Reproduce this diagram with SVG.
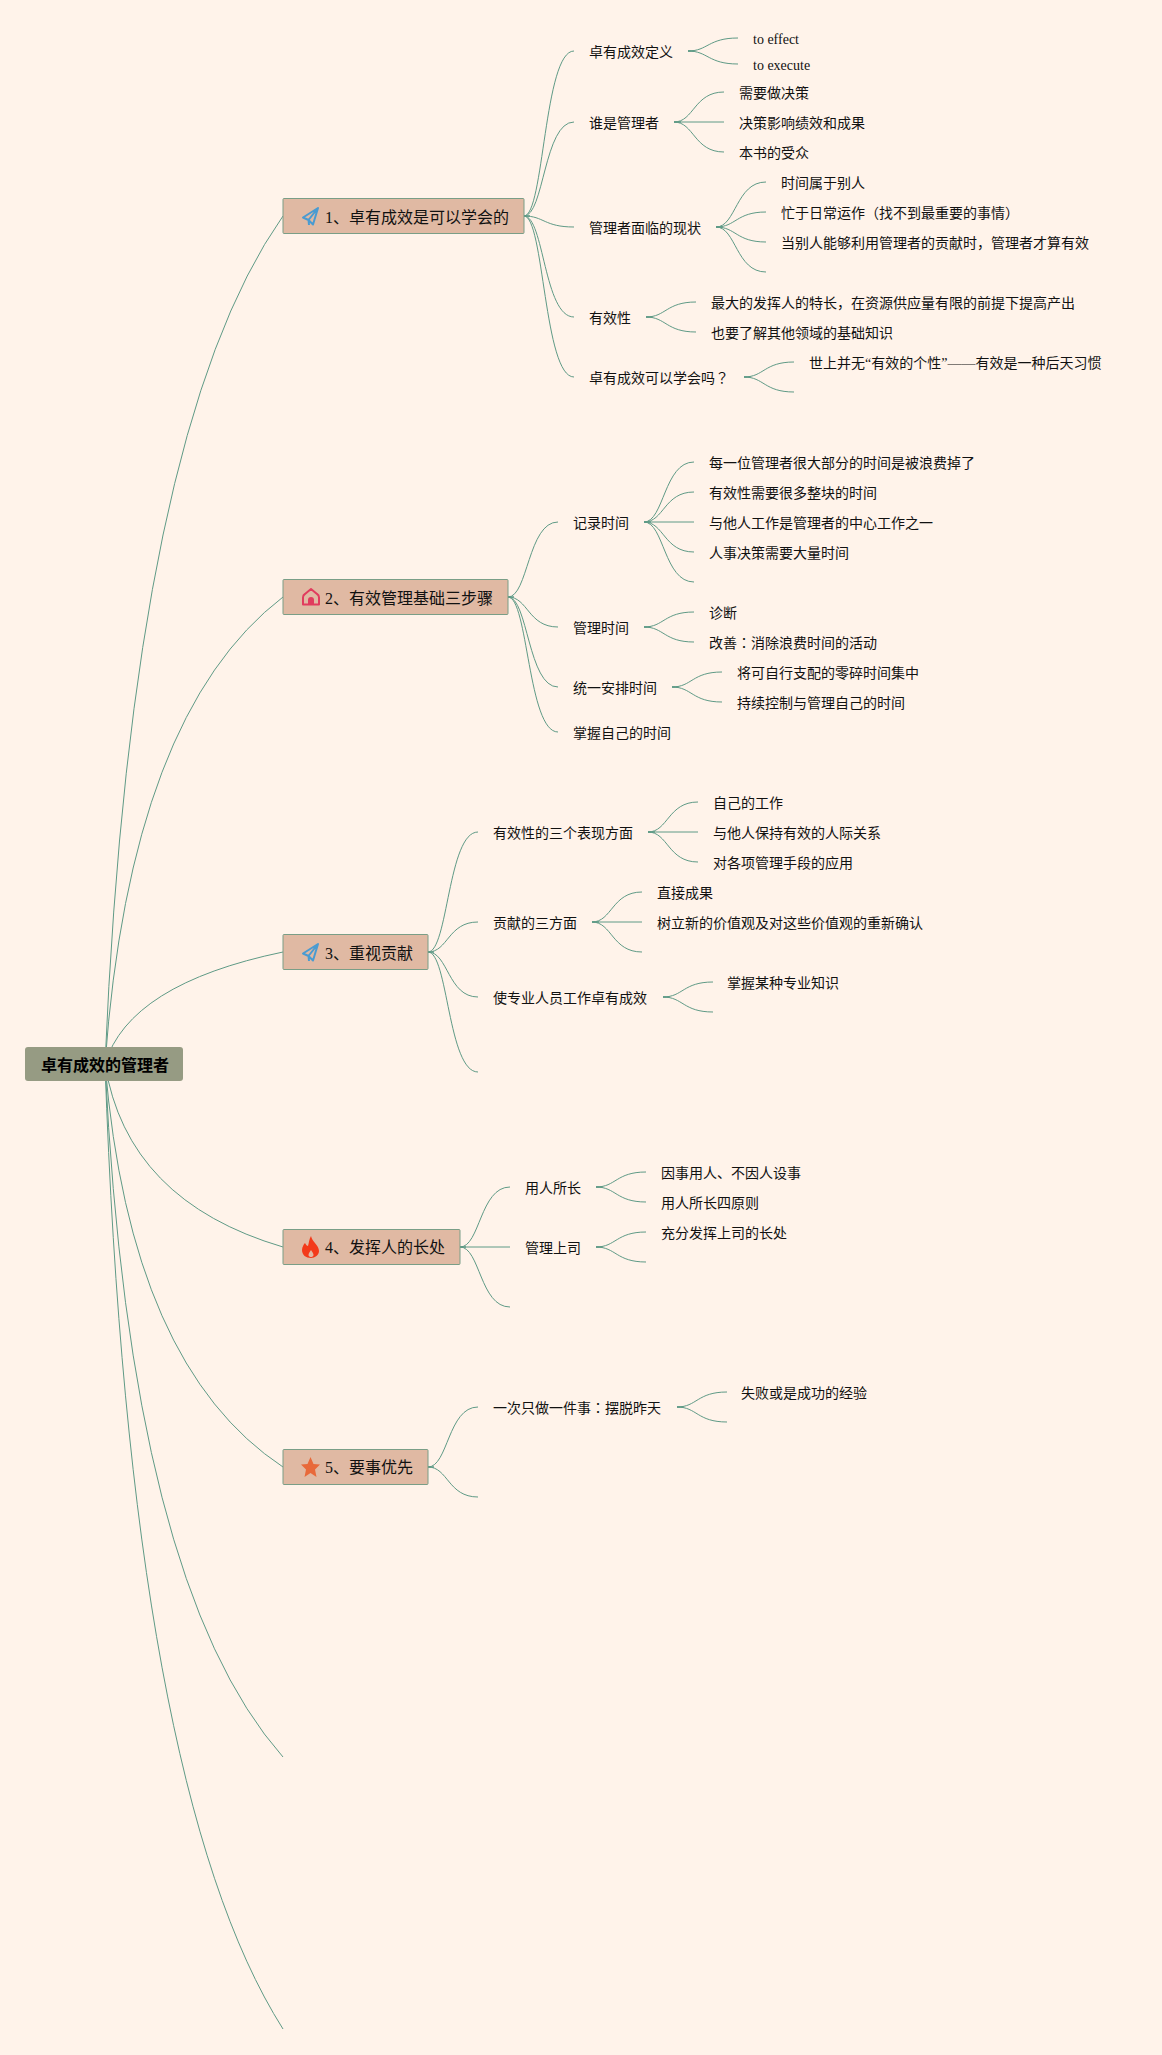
<svg xmlns="http://www.w3.org/2000/svg" width="1162" height="2055" viewBox="0 0 1162 2055">
<style>
text{font-family:"Liberation Serif","Noto Sans CJK SC",serif;fill:#111;font-size:14px}
.j{font-family:"Noto Sans CJK JP",sans-serif}
.t{font-size:16px}
.r{font-size:16px;font-weight:bold;fill:#000}
.box{fill:#e0b9a3;stroke:#7a9e87;stroke-width:1}
.rb{fill:#969b83}
#c path{fill:none;stroke:#5f9a86;stroke-width:1}
#c path.s{stroke:#5f9a86;stroke-width:1.500}
</style>
<rect width="1162" height="2055" fill="#fff3ea"/>
<g id="c">
<path d="M105 1064Q132 430 283 216"/>
<path d="M105 1064Q130 714 283 597"/>
<path d="M105 1064Q129 984 283 952"/>
<path d="M105 1064Q127 1201 283 1247"/>
<path d="M105 1064Q130 1366 283 1467"/>
<path d="M105 1064Q130 1584 283 1757"/>
<path d="M105 1064Q130 1788 283 2029"/>
<path d="M524 216C544 216 544 51 574 51"/>
<path d="M524 216C544 216 544 122 574 122"/>
<path d="M524 216C544 216 544 227 574 227"/>
<path d="M524 216C544 216 544 317 574 317"/>
<path d="M524 216C544 216 544 377 574 377"/>
<path d="M688 51C708 51 708 38 738 38"/>
<path d="M688 51C708 51 708 64 738 64"/>
<path d="M674 122C694 122 694 92 724 92"/>
<path d="M674 122H724"/>
<path d="M674 122C694 122 694 152 724 152"/>
<path d="M716 227C736 227 736 182 766 182"/>
<path d="M716 227C736 227 736 212 766 212"/>
<path d="M716 227C736 227 736 242 766 242"/>
<path d="M716 227C736 227 736 272 766 272"/>
<path d="M646 317C666 317 666 302 696 302"/>
<path d="M646 317C666 317 666 332 696 332"/>
<path d="M744 377C764 377 764 362 794 362"/>
<path d="M744 377C764 377 764 392 794 392"/>
<path d="M508 597C528 597 528 522 558 522"/>
<path d="M508 597C528 597 528 627 558 627"/>
<path d="M508 597C528 597 528 687 558 687"/>
<path d="M508 597C528 597 528 732 558 732"/>
<path d="M644 522C664 522 664 462 694 462"/>
<path d="M644 522C664 522 664 492 694 492"/>
<path d="M644 522H694"/>
<path d="M644 522C664 522 664 552 694 552"/>
<path d="M644 522C664 522 664 582 694 582"/>
<path d="M644 627C664 627 664 612 694 612"/>
<path d="M644 627C664 627 664 642 694 642"/>
<path d="M672 687C692 687 692 672 722 672"/>
<path d="M672 687C692 687 692 702 722 702"/>
<path d="M428 952C448 952 448 832 478 832"/>
<path d="M428 952C448 952 448 922 478 922"/>
<path d="M428 952C448 952 448 997 478 997"/>
<path d="M428 952C448 952 448 1072 478 1072"/>
<path d="M648 832C668 832 668 802 698 802"/>
<path d="M648 832H698"/>
<path d="M648 832C668 832 668 862 698 862"/>
<path d="M592 922C612 922 612 892 642 892"/>
<path d="M592 922H642"/>
<path d="M592 922C612 922 612 952 642 952"/>
<path d="M663 997C683 997 683 982 713 982"/>
<path d="M663 997C683 997 683 1012 713 1012"/>
<path d="M460 1247C480 1247 480 1187 510 1187"/>
<path d="M460 1247H510"/>
<path d="M460 1247C480 1247 480 1307 510 1307"/>
<path d="M596 1187C616 1187 616 1172 646 1172"/>
<path d="M596 1187C616 1187 616 1202 646 1202"/>
<path d="M596 1247C616 1247 616 1232 646 1232"/>
<path d="M596 1247C616 1247 616 1262 646 1262"/>
<path d="M428 1467C448 1467 448 1407 478 1407"/>
<path d="M428 1467C448 1467 448 1497 478 1497"/>
<path d="M677 1407C697 1407 697 1392 727 1392"/>
<path d="M677 1407C697 1407 697 1422 727 1422"/>
<path class="s" d="M524 216h6M688 51h7M674 122h7M716 227h7M646 317h7M744 377h7M508 597h6M644 522h7M644 627h7M672 687h7M428 952h6M648 832h7M592 922h7M663 997h7M460 1247h6M596 1187h7M596 1247h7M428 1467h6M677 1407h7"/>
</g>
<g id="root"><rect class="rb" x="25" y="1047" width="158" height="34" rx="3"/><text class="r" x="41" y="1071">卓有成效的管理者</text></g>
<g id="t1"><rect class="box" x="283" y="198.500" width="241" height="35" rx="1"/>
<path d="M318 208L303 217.500L308.500 220L313 224.500ZM318 208L308.500 220L309 225" fill="none" stroke="#4a9bd1" stroke-width="2" stroke-linejoin="round"/>
<text class="t" x="325" y="223">1、卓有成效是可以学会的</text></g>
<g id="t2"><rect class="box" x="283" y="579.500" width="225" height="35" rx="1"/>
<path d="M303 604.500V597.500Q303 595 305 594L311 589L317 594Q319 595 319 597.500V604.500Z" fill="none" stroke="#e13c5e" stroke-width="2" stroke-linejoin="round"/>
<path d="M308 605V600a3 3 0 0 1 6 0V605Z" fill="#e13c5e"/>
<text class="t" x="325" y="604">2、有效管理基础三步骤</text></g>
<g id="t3"><rect class="box" x="283" y="934.500" width="145" height="35" rx="1"/>
<path d="M318 944L303 953.500L308.500 956L313 960.500ZM318 944L308.500 956L309 961" fill="none" stroke="#4a9bd1" stroke-width="2" stroke-linejoin="round"/>
<text class="t" x="325" y="959">3、重视贡献</text></g>
<g id="t4"><rect class="box" x="283" y="1229.500" width="177" height="35" rx="1"/>
<path d="M311 1236C312 1242 319 1245 319 1251C319 1255 315 1258 311 1258C306 1258 302 1255 302 1250C302 1247 304 1244 305 1243C306 1245 307 1246 308 1246C309 1243 309 1239 311 1236ZM311 1250C310 1252 308.500 1253 308.500 1255C308.500 1256.500 310 1257 311 1257C312 1257 313.500 1256.500 313.500 1255C313.500 1253 312 1252 311 1250Z" fill="#f33a1a" fill-rule="evenodd"/>
<text class="t" x="325" y="1253">4、发挥人的长处</text></g>
<g id="t5"><rect class="box" x="283" y="1449.500" width="145" height="35" rx="1"/>
<path d="M310.500 1457L313.500 1464L320 1464.500L315 1469.500L316.500 1477L310.500 1473L304.500 1477L306 1469.500L301 1464.500L307.500 1464Z" fill="#e8693a"/>
<text class="t" x="325" y="1473">5、要事优先</text></g>
<g id="n1"><text x="589" y="57">卓有成效定义</text><text x="753" y="44">to effect</text><text x="753" y="70">to execute</text></g>
<g id="n2"><text x="589" y="128">谁是管理者</text><text x="739" y="98">需要做决策</text><text x="739" y="128">决策影响绩效和成果</text><text x="739" y="158">本书的受众</text></g>
<g id="n3"><text x="589" y="233">管理者面临的现状</text><text x="781" y="188">时间属于别人</text><text x="781" y="218">忙于日常运作（找不到最重要的事情）</text><text x="781" y="248">当别人能够利用管理者的贡献时，管理者才算有效</text></g>
<g id="n4"><text x="589" y="323">有效性</text><text x="711" y="308">最大的发挥人的特长，在资源供应量有限的前提下提高产出</text><text x="711" y="338">也要了解其他领域的基础知识</text></g>
<g id="n5"><text x="589" y="383">卓有成效可以学会吗<tspan class="j">？</tspan></text><text x="809" y="368">世上并无“有效的个性”——有效是一种后天习惯</text></g>
<g id="n6"><text x="573" y="528">记录时间</text><text x="709" y="468">每一位管理者很大部分的时间是被浪费掉了</text><text x="709" y="498">有效性需要很多整块的时间</text><text x="709" y="528">与他人工作是管理者的中心工作之一</text><text x="709" y="558">人事决策需要大量时间</text></g>
<g id="n7"><text x="573" y="633">管理时间</text><text x="709" y="618">诊断</text><text x="709" y="648">改善<tspan class="j">：</tspan>消除浪费时间的活动</text></g>
<g id="n8"><text x="573" y="693">统一安排时间</text><text x="737" y="678">将可自行支配的零碎时间集中</text><text x="737" y="708">持续控制与管理自己的时间</text></g>
<g id="n9"><text x="573" y="738">掌握自己的时间</text></g>
<g id="n10"><text x="493" y="838">有效性的三个表现方面</text><text x="713" y="808">自己的工作</text><text x="713" y="838">与他人保持有效的人际关系</text><text x="713" y="868">对各项管理手段的应用</text></g>
<g id="n11"><text x="493" y="928">贡献的三方面</text><text x="657" y="898">直接成果</text><text x="657" y="928">树立新的价值观及对这些价值观的重新确认</text></g>
<g id="n12"><text x="493" y="1003">使专业人员工作卓有成效</text><text x="727" y="988">掌握某种专业知识</text></g>
<g id="n13"><text x="525" y="1193">用人所长</text><text x="661" y="1178">因事用人、不因人设事</text><text x="661" y="1208">用人所长四原则</text></g>
<g id="n14"><text x="525" y="1253">管理上司</text><text x="661" y="1238">充分发挥上司的长处</text></g>
<g id="n15"><text x="493" y="1413">一次只做一件事<tspan class="j">：</tspan>摆脱昨天</text><text x="741" y="1398">失败或是成功的经验</text></g>
</svg>
